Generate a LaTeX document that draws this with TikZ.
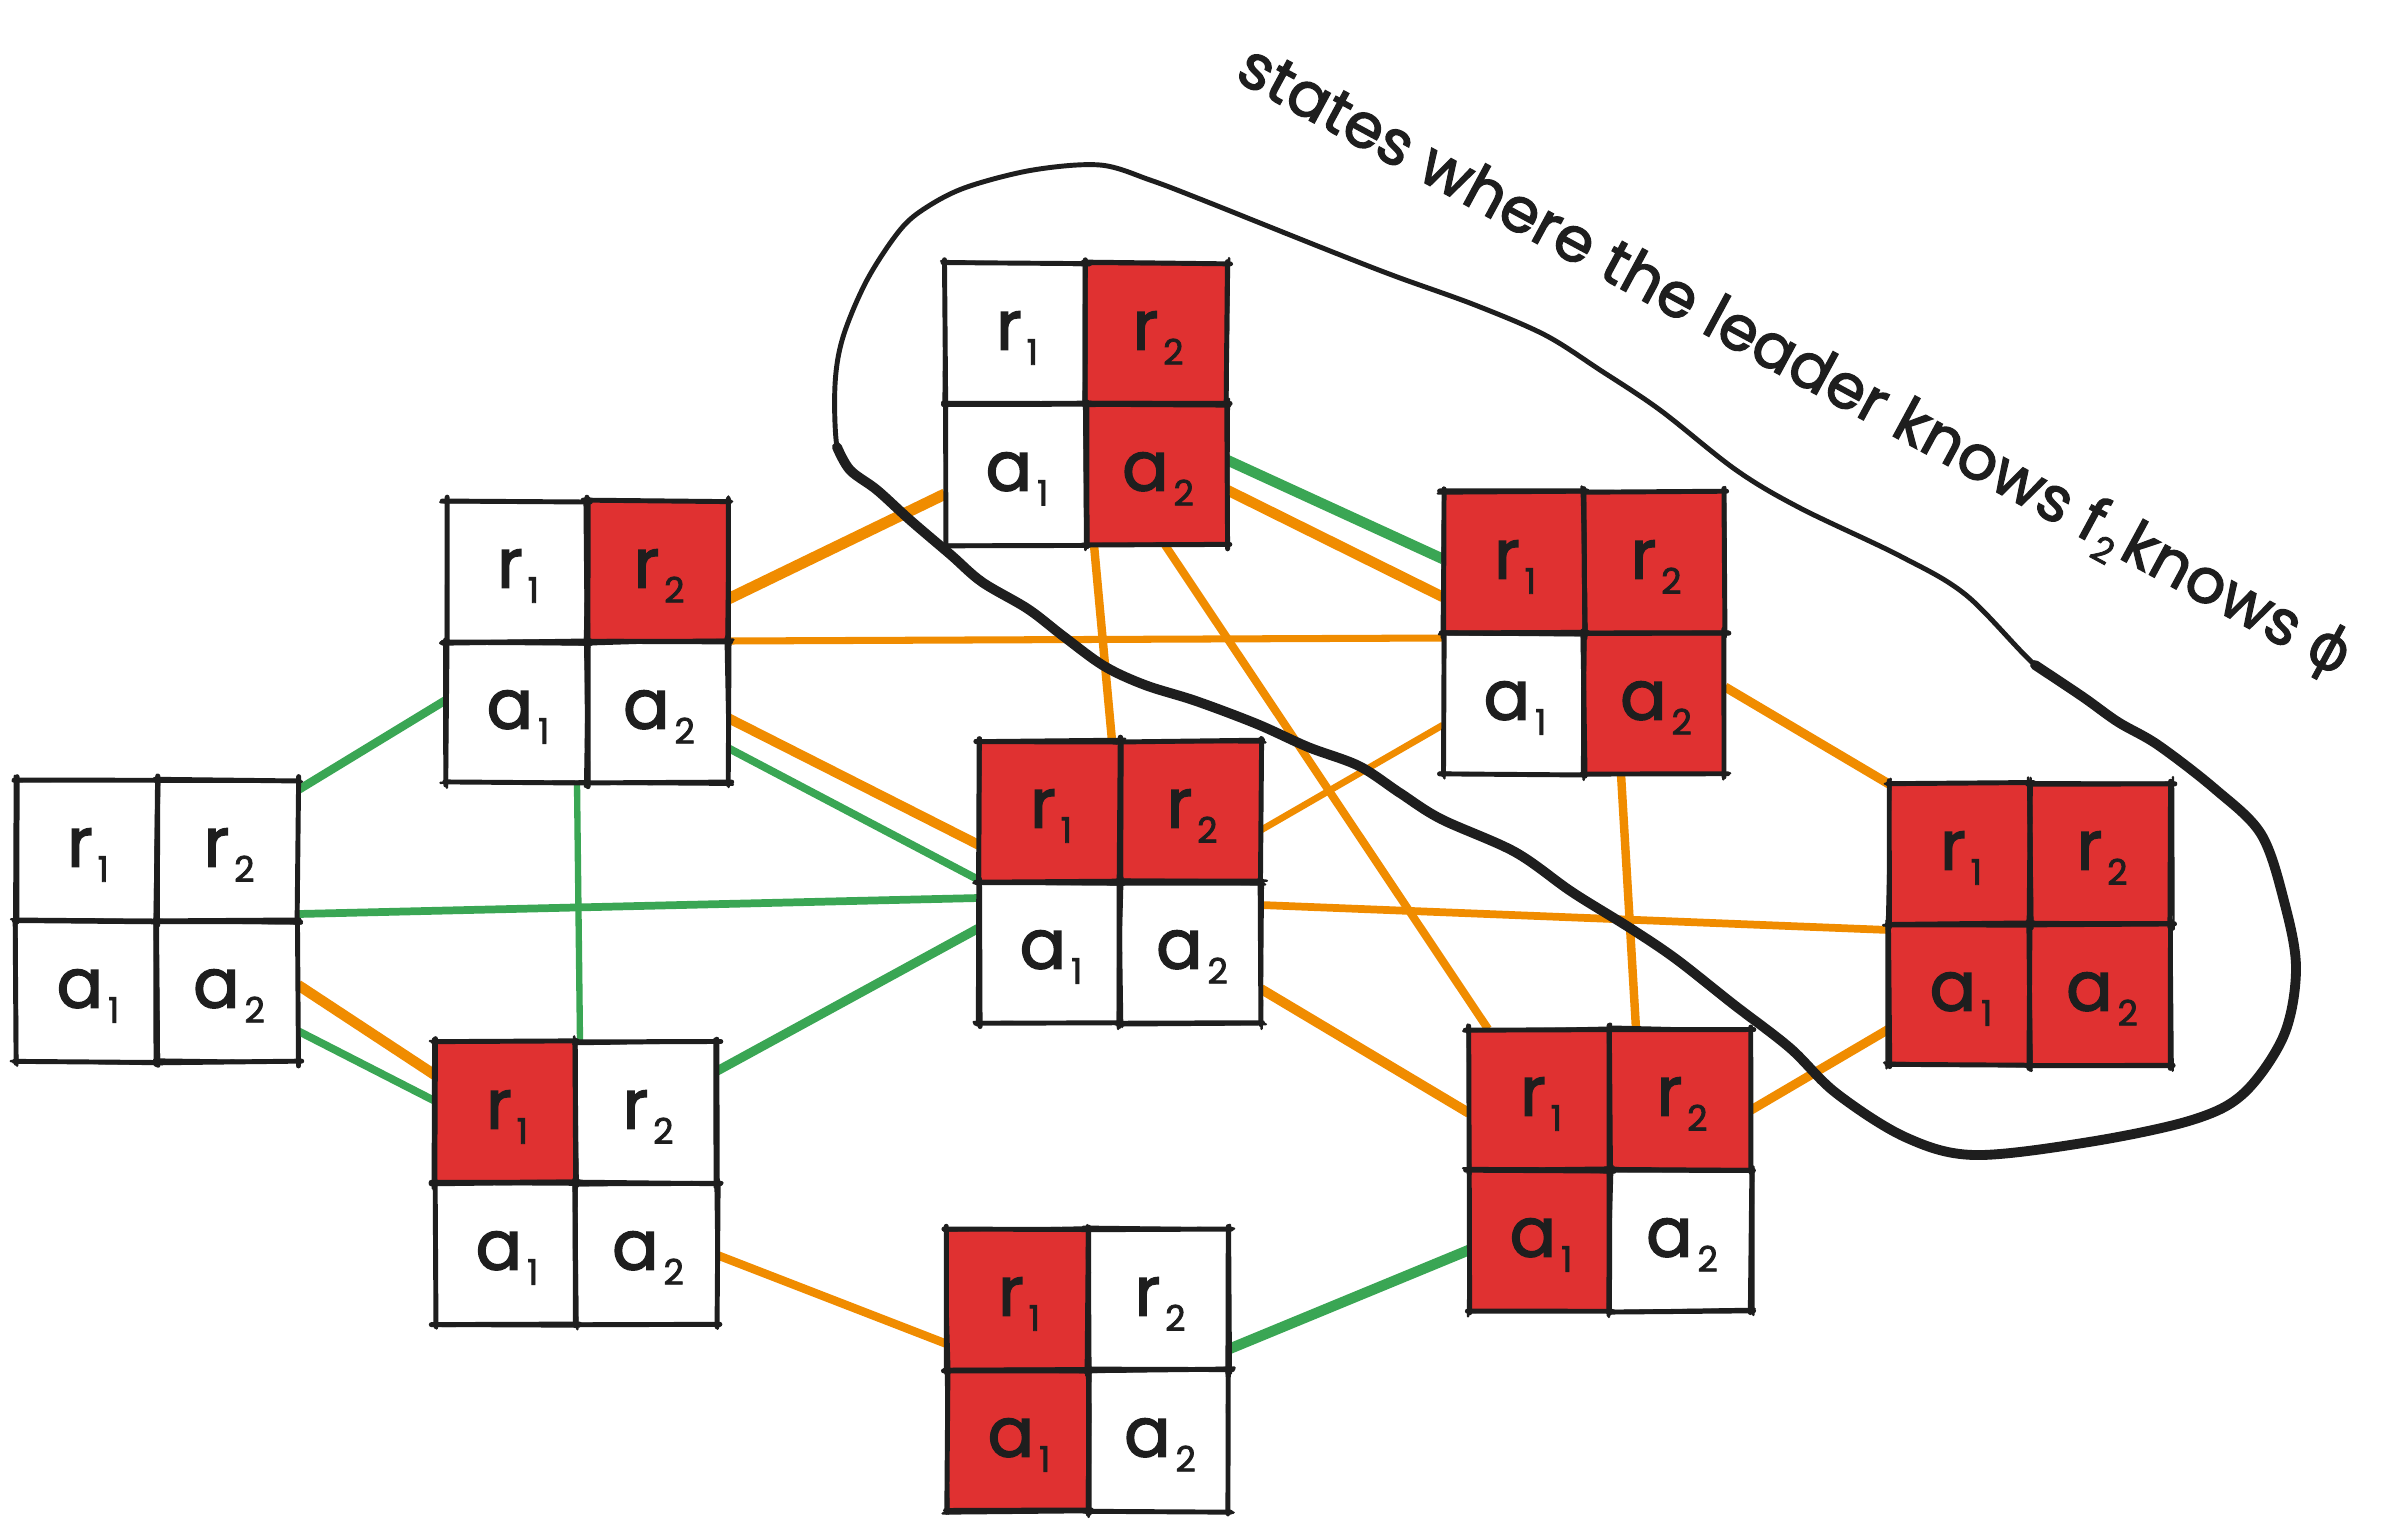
\documentclass[tikz,border=0pt]{standalone}
\usepackage{fontspec}
\setmainfont{Poppins}[UprightFeatures={FakeBold=2.2}]
\newfontfamily\greekfont{DejaVu Sans}[FakeBold=1.2]
\usetikzlibrary{calc}
\pgfdeclarelayer{paper}
\pgfdeclarelayer{bg}
\pgfsetlayers{paper,bg,main}

\definecolor{cellred}{HTML}{E03131}
\definecolor{edgeorange}{HTML}{F08C00}
\definecolor{edgegreen}{HTML}{3AA654}
\definecolor{ink}{HTML}{1E1E1E}

\tikzset{
  statenode/.style={minimum size=2.82cm, inner sep=0pt, outer sep=0pt},
  skA/.style={draw=ink, line width=1.4pt, line cap=round},
  skB/.style={draw=ink, line width=0.7pt, line cap=round},
  oline/.style={draw=edgeorange, line width=2.4pt},
  gline/.style={draw=edgegreen, line width=2.2pt},
  celllabel/.style={font=\fontsize{19.5}{19.5}\selectfont, text=ink, inner sep=0pt},
  lassothin/.style={draw=ink, line width=1.4pt, line cap=round, line join=round},
  lassothick/.style={draw=ink, line width=2.8pt, line cap=round, line join=round},
  note/.style={font=\fontsize{17.6}{17.6}\selectfont, text=ink, inner sep=0pt},
}

% letter with a lowered index, as in r_1
\newcommand\sublab[2]{#1\hspace{0.05cm}\raisebox{-0.15cm}{\fontsize{10}{10}\selectfont #2}}

% sketchy horizontal edge: x from #1 to #2 at height #3
\newcommand\skh[3]{%
  \draw[skA] ({#1-1-3*rnd},{#3+1.2*rand}) -- ({#2+1+3*rnd},{#3+1.2*rand});
  \draw[skB] ({#1-2-4*rnd},{#3+2.5*rand}) -- ({#2+2+4*rnd},{#3+2.5*rand});
}
% sketchy vertical edge: at x #1, y from #2 to #3
\newcommand\skv[3]{%
  \draw[skA] ({#1+1.2*rand},{#2-1-3*rnd}) -- ({#1+1.2*rand},{#3+1+3*rnd});
  \draw[skB] ({#1+2.5*rand},{#2-2-4*rnd}) -- ({#1+2.5*rand},{#3+2+4*rnd});
}
% outline of one cell with top-left corner (#1,#2)
\newcommand\skcell[2]{%
  \skh{#1}{#1+141}{#2}
  \skh{#1}{#1+141}{#2+141}
  \skv{#1}{#2}{#2+141}
  \skv{#1+141}{#2}{#2+141}
}
% a state: name, centre x, centre y, fills of r1, r2, a1, a2
\newcommand\statebox[7]{%
  \node[statenode] (#1) at (#2,#3) {};
  \fill[#4] ({#2-141},{#3-141}) rectangle ({#2},{#3});
  \fill[#5] ({#2},{#3-141}) rectangle ({#2+141},{#3});
  \fill[#6] ({#2-141},{#3}) rectangle ({#2},{#3+141});
  \fill[#7] ({#2},{#3}) rectangle ({#2+141},{#3+141});
  \skcell{#2-141}{#3-141}
  \skcell{#2}{#3-141}
  \skcell{#2-141}{#3}
  \skcell{#2}{#3}
  \node[celllabel] at ({#2-69},{#3-66}) {\sublab{r}{1}};
  \node[celllabel] at ({#2+72},{#3-66}) {\sublab{r}{2}};
  \node[celllabel] at ({#2-69},{#3+75}) {\sublab{a}{1}};
  \node[celllabel] at ({#2+72},{#3+75}) {\sublab{a}{2}};
}

\begin{document}
\begin{tikzpicture}[x=0.01cm, y=-0.01cm]
\pgfmathsetseed{4242}
\useasboundingbox (0,0) rectangle (2400,1527);
\begin{pgfonlayer}{paper}
  \fill[white] (0,0) rectangle (2400,1527);
\end{pgfonlayer}

% states
\statebox{A}{157}{921}{white}{white}{white}{white}
\statebox{B}{587}{642}{white}{cellred}{white}{white}
\statebox{C}{576}{1183}{cellred}{white}{white}{white}
\statebox{D}{1086}{404}{white}{cellred}{white}{cellred}
\statebox{E}{1120}{882}{cellred}{cellred}{white}{white}
\statebox{F}{1088}{1370}{cellred}{white}{cellred}{white}
\statebox{G}{1584}{633}{cellred}{cellred}{white}{cellred}
\statebox{H}{1610}{1170}{cellred}{cellred}{cellred}{white}
\statebox{I}{2030}{924}{cellred}{cellred}{cellred}{cellred}

% transitions
\begin{pgfonlayer}{bg}
  % green
  \draw[gline, line width=2.4pt] ([shift={(0,-131)}]A.east) -- ([shift={(0,58)}]B.west);
  \draw[gline] ([shift={(0,-7)}]A.east) -- ([shift={(0,16)}]E.west);
  \draw[gline] ([shift={(0,110)}]A.east) -- ([shift={(0,-82)}]C.west);
  \draw[gline, line width=1.8pt] ([shift={(-10,0)}]B.south) -- ([shift={(4,0)}]C.north);
  \draw[gline] ([shift={(0,106)}]B.east) -- ([shift={(0,-2)}]E.west);
  \draw[gline, line width=2.6pt] ([shift={(0,-112)}]C.east) -- ([shift={(0,46)}]E.west);
  \draw[gline, line width=3pt] ([shift={(0,56)}]D.east) -- ([shift={(0,-74)}]G.west);
  \draw[gline, line width=3pt] ([shift={(0,-21)}]F.east) -- ([shift={(0,80)}]H.west);
  % orange
  \draw[oline, line width=3pt] ([shift={(0,64)}]A.east) -- ([shift={(0,-108)}]C.west);
  \draw[oline, line width=3.2pt] ([shift={(0,-43)}]B.east) -- ([shift={(0,90)}]D.west);
  \draw[oline, line width=2pt] ([shift={(0,-1)}]B.east) -- ([shift={(0,5)}]G.west);
  \draw[oline, line width=2.8pt] ([shift={(0,76)}]B.east) -- ([shift={(0,-37)}]E.west);
  \draw[oline, line width=3pt] ([shift={(0,86)}]D.east) -- ([shift={(0,-36)}]G.west);
  \draw[oline] ([shift={(8,0)}]D.south) -- ([shift={(-8,0)}]E.north);
  \draw[oline, line width=2.3pt] ([shift={(79,0)}]D.south) -- ([shift={(-122,0)}]H.north);
  \draw[oline, line width=1.9pt] ([shift={(0,-52)}]E.east) -- ([shift={(0,92)}]G.west);
  \draw[oline, line width=2.2pt] ([shift={(0,23)}]E.east) -- ([shift={(0,6)}]I.west);
  \draw[oline, line width=2.8pt] ([shift={(0,107)}]E.east) -- ([shift={(0,-57)}]H.west);
  \draw[oline] ([shift={(37,0)}]G.south) -- ([shift={(26,0)}]H.north);
  \draw[oline, line width=2.6pt] ([shift={(0,54)}]G.east) -- ([shift={(0,-140)}]I.west);
  \draw[oline, line width=2.6pt] ([shift={(0,-60)}]H.east) -- ([shift={(0,105)}]I.west);
  \draw[oline] ([shift={(0,72)}]C.east) -- ([shift={(0,-26)}]F.west);
\end{pgfonlayer}

% the hand-drawn region around the states where the leader knows
\draw[lassothin] plot[smooth cycle, tension=0.55] coordinates {
  (1100,165) (1033,170) (967,187) (927,207) (900,230) (867,280) (843,337)
  (835,385) (837,447) (850,470) (877,490) (910,520) (951,555) (982,582)
  (1028,609) (1063,636) (1104,666) (1145,685) (1196,701) (1257,724)
  (1308,747) (1359,766) (1400,793) (1441,819) (1515,852) (1572,892)
  (1630,928) (1676,959) (1733,1004) (1790,1048) (1836,1093) (1905,1137)
  (1974,1155) (2089,1142) (2192,1120) (2244,1093) (2284,1035) (2296,968)
  (2284,901) (2261,834) (2215,789) (2158,745) (2118,722) (2083,697)
  (2035,665) (1966,595) (1900,556) (1800,508) (1736,470) (1660,410)
  (1600,370) (1545,335) (1475,305) (1400,278) (1353,260) (1290,235)
  (1200,199) (1150,180)};
\draw[lassothick] plot[smooth, tension=0.55] coordinates {
  (837,447) (850,470) (877,490) (910,520) (951,555) (982,582)
  (1028,609) (1063,636) (1104,666) (1145,685) (1196,701) (1257,724)
  (1308,747) (1359,766) (1400,793) (1441,819) (1515,852) (1572,892)
  (1630,928) (1676,959) (1733,1004) (1790,1048) (1836,1093) (1905,1137)
  (1974,1155) (2089,1142) (2192,1120) (2244,1093) (2284,1035) (2296,968)
  (2284,901) (2261,834) (2215,789) (2158,745) (2118,722) (2083,697)
  (2035,665)};

\node[note, rotate=-28.4] (label) at (1794,363)
  {states where the leader knows f\hspace{0.02cm}\raisebox{-0.13cm}{\fontsize{10}{10}\selectfont 2}\hspace{0.06cm}knows {\greekfont ϕ}};
\end{tikzpicture}
\end{document}
